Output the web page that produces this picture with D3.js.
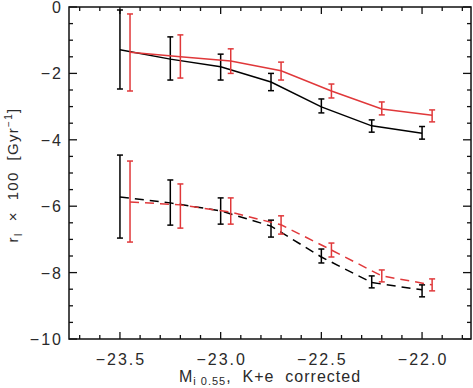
<!DOCTYPE html>
<html>
<head>
<meta charset="utf-8">
<script src="https://cdn.jsdelivr.net/npm/d3@7"></script>
<style>
  body { margin: 0; background: #fff; }
  text { font-family: "Liberation Sans", Arial, sans-serif; fill: #2a2a2a; white-space: pre; }
  .tick-label { font-size: 16px; letter-spacing: 2px; }
</style>
</head>
<body>
<div id="chart"></div>
<script>
// magnitude bins (red points are shifted a bit to the right)
var magBlack = [-23.5, -23.25, -23.0, -22.75, -22.5, -22.25, -22.0];
var magRed   = [-23.45, -23.2, -22.95, -22.7, -22.45, -22.2, -21.95];

// upper (solid) curves
var solidBlack   = [-1.29, -1.57, -1.80, -2.26, -3.01, -3.58, -3.80];
var solidBlackLo = [-2.47, -2.20, -2.20, -2.52, -3.19, -3.77, -3.98];
var solidBlackHi = [-0.09, -0.90, -1.42, -2.00, -2.77, -3.40, -3.60];
var solidRed     = [-1.36, -1.50, -1.63, -1.92, -2.53, -3.07, -3.26];
var solidRedLo   = [-2.53, -2.14, -2.00, -2.20, -2.74, -3.25, -3.46];
var solidRedHi   = [-0.21, -0.84, -1.26, -1.66, -2.32, -2.86, -3.10];

// lower (dashed) curves
var dashBlack   = [-5.72, -5.90, -6.14, -6.60, -7.53, -8.30, -8.52];
var dashBlackLo = [-6.96, -6.57, -6.54, -6.93, -7.71, -8.46, -8.73];
var dashBlackHi = [-4.46, -5.21, -5.75, -6.42, -7.29, -8.10, -8.37];
var dashRed     = [-5.87, -5.96, -6.18, -6.56, -7.32, -8.10, -8.37];
var dashRedLo   = [-7.08, -6.66, -6.54, -6.84, -7.53, -8.28, -8.55];
var dashRedHi   = [-4.64, -5.33, -5.75, -6.29, -7.11, -7.92, -8.19];

var xTicks = [-23.5, -23.0, -22.5, -22.0];
var yTicks = [0, -2, -4, -6, -8, -10];

var red = "#e0383a";

var margin = {top: 7, right: 2, bottom: 49, left: 69};
var width = 473 - margin.left - margin.right;
var height = 388 - margin.top - margin.bottom;

var svg = d3.select("#chart")
	.append("svg")
	.attr("width", 473)
	.attr("height", 388)
	.append("g")
	.attr("transform", "translate(" + margin.left + "," + margin.top + ")");

var x = d3.scaleLinear().domain([-23.753, -21.757]).range([0, width]);
var y = d3.scaleLinear().domain([-10, 0]).range([height, 0]);

function minus(v, dec) {
	return d3.format("." + dec + "f")(v).replace("-", "\u2212");
}

///////////////////////////////////////////////////////////////////////////
//////////////////////////////// Axes box /////////////////////////////////
///////////////////////////////////////////////////////////////////////////

// minor + major ticks on all four sides, pointing inward
var xMinor = d3.range(-23.7, -21.75, 0.1).map(function(d) { return Math.round(d * 10) / 10; });
var yMinor = d3.range(-10, 0.01, 0.5);

var axes = svg.append("g").attr("class", "axes").attr("stroke", "#111").attr("stroke-width", 1.3);

xMinor.forEach(function(d) {
	var major = xTicks.some(function(t) { return Math.abs(t - d) < 1e-6; });
	var len = major ? 7 : 4;
	axes.append("line").attr("x1", x(d)).attr("x2", x(d)).attr("y1", height).attr("y2", height - len);
	axes.append("line").attr("x1", x(d)).attr("x2", x(d)).attr("y1", 0).attr("y2", len);
});
yMinor.forEach(function(d) {
	var major = yTicks.indexOf(d) >= 0;
	var len = major ? 8 : 4;
	axes.append("line").attr("y1", y(d)).attr("y2", y(d)).attr("x1", 0).attr("x2", len);
	axes.append("line").attr("y1", y(d)).attr("y2", y(d)).attr("x1", width).attr("x2", width - len);
});

svg.append("rect")
	.attr("x", 0).attr("y", 0)
	.attr("width", width).attr("height", height)
	.attr("fill", "none")
	.attr("stroke", "#111")
	.attr("stroke-width", 1.5);

svg.selectAll(".xlab")
	.data(xTicks)
	.enter().append("text")
	.attr("class", "tick-label")
	.attr("x", function(d) { return x(d) + 1; })
	.attr("y", height + 26)
	.attr("text-anchor", "middle")
	.text(function(d) { return minus(d, 1); });

svg.selectAll(".ylab")
	.data(yTicks)
	.enter().append("text")
	.attr("class", "tick-label")
	.attr("x", -6)
	.attr("y", function(d) { return y(d) + 6; })
	.attr("text-anchor", "end")
	.text(function(d) { return minus(d, 0); });

// axis titles
var xt = svg.append("text")
	.attr("x", 201)
	.attr("y", height + 43)
	.attr("text-anchor", "middle")
	.style("font-size", "16px")
	.style("letter-spacing", "1px");
xt.append("tspan").text("M");
xt.append("tspan").attr("dy", 3).style("font-size", "11px").text("i 0.55");
xt.append("tspan").attr("dy", -3).text(",  K+e  corrected");

var yt = svg.append("text")
	.attr("transform", "translate(" + (-51) + "," + (y(-5) + 2) + ") rotate(-90)")
	.attr("text-anchor", "middle")
	.style("font-size", "15px")
	.style("letter-spacing", "1.3px");
yt.append("tspan").text("r");
yt.append("tspan").attr("dy", 4).style("font-size", "10px").text("I");
yt.append("tspan").attr("dy", -4).text("  \u00d7  100  [Gyr");
yt.append("tspan").attr("dy", -6).style("font-size", "10px").text("\u22121");
yt.append("tspan").attr("dy", 6).text("]");

///////////////////////////////////////////////////////////////////////////
//////////////////////////// Lines & error bars ///////////////////////////
///////////////////////////////////////////////////////////////////////////

function drawSeries(xs, vals, lo, hi, color, dashed) {
	var pts = xs.map(function(d, i) { return {x: d, v: vals[i], lo: lo[i], hi: hi[i]}; });
	var line = d3.line().x(function(d) { return x(d.x); }).y(function(d) { return y(d.v); });

	svg.append("path")
		.datum(pts)
		.attr("d", line)
		.attr("fill", "none")
		.attr("stroke", color)
		.attr("stroke-width", 1.5)
		.attr("stroke-dasharray", dashed ? "9,6" : null);

	var g = svg.append("g").attr("stroke", color).attr("stroke-width", 1.5);
	pts.forEach(function(d) {
		g.append("line").attr("x1", x(d.x)).attr("x2", x(d.x)).attr("y1", y(d.lo)).attr("y2", y(d.hi));
		g.append("line").attr("x1", x(d.x) - 3).attr("x2", x(d.x) + 3).attr("y1", y(d.lo)).attr("y2", y(d.lo));
		g.append("line").attr("x1", x(d.x) - 3).attr("x2", x(d.x) + 3).attr("y1", y(d.hi)).attr("y2", y(d.hi));
	});
}

drawSeries(magBlack, solidBlack, solidBlackLo, solidBlackHi, "#000", false);
drawSeries(magRed, solidRed, solidRedLo, solidRedHi, red, false);
drawSeries(magBlack, dashBlack, dashBlackLo, dashBlackHi, "#000", true);
drawSeries(magRed, dashRed, dashRedLo, dashRedHi, red, true);
</script>
</body>
</html>
